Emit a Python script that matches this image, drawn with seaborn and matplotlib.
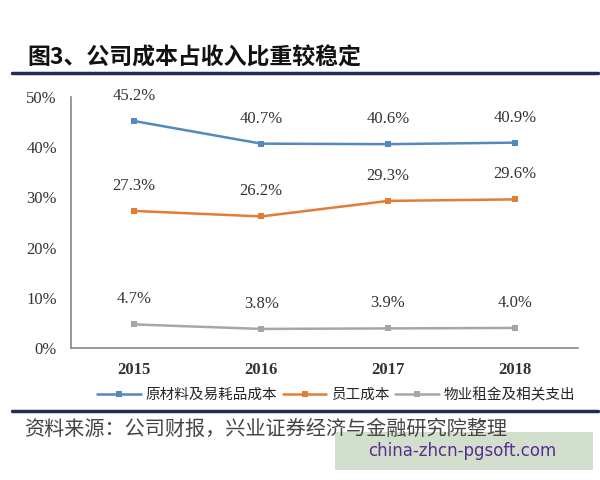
import matplotlib.pyplot as plt
import pandas as pd
import seaborn as sns
from matplotlib.lines import Line2D
from matplotlib.patches import Rectangle

# 数据
years = ['2015', '2016', '2017', '2018']
raw_material = [45.2, 40.7, 40.6, 40.9]
staff_cost = [27.3, 26.2, 29.3, 29.6]
rent_cost = [4.7, 3.8, 3.9, 4.0]
series_names = ['原材料及易耗品成本', '员工成本', '物业租金及相关支出']
colors = ['#5588bf', '#e27d36', '#a6a6a6']
y_ticks = [0, 10, 20, 30, 40, 50]

sns.set_style('white')
plt.rcParams['font.family'] = ['Liberation Serif', 'Noto Sans CJK SC', 'DejaVu Sans']

rows = []
for name, vals in zip(series_names, [raw_material, staff_cost, rent_cost]):
    for i, v in enumerate(vals):
        rows.append({'year': i, 'value': v, 'series': name})
df = pd.DataFrame(rows)

fig = plt.figure(figsize=(6, 4.8), dpi=100)
ax = fig.add_axes([0.118, 0.275, 0.846, 0.523])

sns.lineplot(data=df, x='year', y='value', hue='series', palette=colors,
             marker='s', markersize=5, markeredgewidth=0, linewidth=1.8,
             legend=False, ax=ax)

# 数据标签
for vals in [raw_material, staff_cost, rent_cost]:
    for i, v in enumerate(vals):
        ax.annotate(f'{v:.1f}%', (i, v), xytext=(0, 18), textcoords='offset points',
                    ha='center', va='center', fontsize=12, color='#333333',
                    family=['Liberation Serif'])

ax.set_xlim(-0.5, 3.5)
ax.set_ylim(0, 50)
ax.set_yticks(y_ticks)
ax.set_yticklabels([f'{t}%' for t in y_ticks], fontsize=12, color='#333333')
ax.set_xticks(range(len(years)))
ax.set_xticklabels(years, fontsize=12, color='#333333', fontweight='bold')
ax.set_xticks([0.5, 1.5, 2.5], minor=True)
ax.tick_params(axis='x', which='major', length=0, pad=10)
ax.tick_params(axis='x', which='minor', direction='in', length=4, color='#888888')
ax.tick_params(axis='y', which='major', direction='out', length=4, color='#888888', pad=6)
ax.set_xlabel('')
ax.set_ylabel('')
for s in ['top', 'right']:
    ax.spines[s].set_visible(False)
for s in ['left', 'bottom']:
    ax.spines[s].set_color('#888888')
    ax.spines[s].set_linewidth(1.2)

# 图例
handles = [Line2D([], [], color=c, marker='s', markersize=4, markeredgewidth=0, linewidth=1.8)
           for c in colors]
fig.legend(handles, series_names, loc='center', bbox_to_anchor=(0.56, 0.177), ncol=3,
           frameon=False, handlelength=3, columnspacing=0.4, handletextpad=0.3,
           prop={'family': ['Noto Sans CJK SC'], 'size': 10.5})

# 标题与装饰线
fig.text(0.045, 0.88, '图3、公司成本占收入比重较稳定', fontsize=16.5, fontweight='bold',
         family=['Noto Sans CJK SC'], va='center', color='#111111')
fig.add_artist(Line2D([0.02, 0.997], [0.848, 0.848], color='#1f2d5a', linewidth=2.5))
fig.add_artist(Line2D([0.02, 0.997], [0.144, 0.144], color='#1f2d5a', linewidth=2.5))
fig.text(0.04, 0.105, '资料来源：公司财报，兴业证券经济与金融研究院整理', fontsize=14.5,
         family=['Noto Sans CJK SC'], va='center', color='#444444')

# 水印
fig.add_artist(Rectangle((0.558, 0.02), 0.43, 0.08, transform=fig.transFigure,
                         facecolor='#d3dfcd', edgecolor='none'))
fig.text(0.77, 0.06, 'china-zhcn-pgsoft.com', fontsize=12, color='#5a2d91',
         family=['DejaVu Sans'], ha='center', va='center')

fig.savefig('out.png', dpi=100)
